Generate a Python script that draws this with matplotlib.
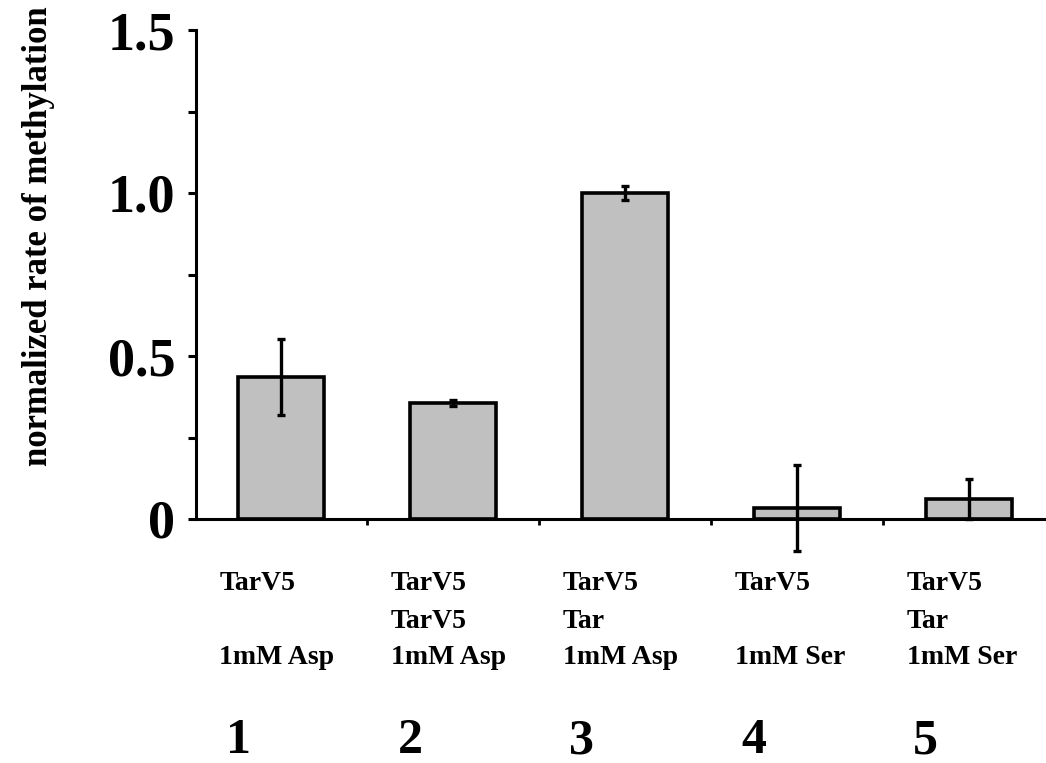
import matplotlib.pyplot as plt
import matplotlib.transforms as mtransforms
import numpy as np

# bar heights and error bars (normalized to TarV5 + Tar + Asp)
lanes = [1, 2, 3, 4, 5]
rates = [0.436, 0.356, 1.0, 0.034, 0.061]
errors = [0.117, 0.010, 0.020, 0.133, 0.062]

# three text rows under each bar
row1 = ['TarV5', 'TarV5', 'TarV5', 'TarV5', 'TarV5']
row2 = ['', 'TarV5', 'Tar', '', 'Tar']
row3 = ['1mM Asp', '1mM Asp', '1mM Asp', '1mM Ser', '1mM Ser']

plt.rcParams['font.family'] = ['Liberation Serif', 'DejaVu Serif']
plt.rcParams['font.weight'] = 'bold'

W, H = 1046, 763
fig = plt.figure(figsize=(W / 100, H / 100), dpi=100)
ax = fig.add_axes([196 / W, 244 / H, (W - 196) / W, (519 - 30) / H])

x = np.array(lanes)
ax.bar(x, rates, width=0.5, color='#c0c0c0', edgecolor='black', linewidth=2.6, zorder=2)
ax.errorbar(x, rates, yerr=errors, fmt='none', ecolor='black', elinewidth=2.4,
            capsize=3, capthick=2.4, zorder=3, clip_on=False)

ax.set_xlim(0.505, 5.45)
ax.set_ylim(0, 1.5)

ax.spines['top'].set_visible(False)
ax.spines['right'].set_visible(False)
ax.spines['left'].set_linewidth(2.2)
ax.spines['bottom'].set_linewidth(2.2)

ax.set_yticks([0, 0.5, 1.0, 1.5])
ax.set_yticklabels(['0', '0.5', '1.0', '1.5'])
ax.set_yticks([0.25, 0.75, 1.25], minor=True)
ax.tick_params(axis='y', which='both', direction='out', length=6, width=2.2,
               labelsize=39, pad=9)
ax.set_xticks([1.5, 2.5, 3.5, 4.5])
ax.set_xticklabels([])
ax.tick_params(axis='x', direction='out', length=4, width=2)

ax.set_ylabel('normalized rate of methylation', fontsize=25, fontweight='bold')
ax.yaxis.set_label_coords(-0.166, 0.579)

# lane descriptions and numbers below the axis
trans = mtransforms.blended_transform_factory(ax.transData, fig.transFigure)
for i, xi in enumerate(x):
    for row, ypix in ((row1, 583), (row2, 621), (row3, 658)):
        if row[i]:
            ax.text(xi - 0.36, 1 - ypix / H, row[i], transform=trans, ha='left',
                    va='center', fontsize=20, fontweight='bold', clip_on=False)
    ax.text(xi - 0.25, 1 - 741 / H, str(lanes[i]), transform=trans, ha='center',
            va='center', fontsize=36, fontweight='bold', clip_on=False)

fig.savefig('out.png', dpi=100)
